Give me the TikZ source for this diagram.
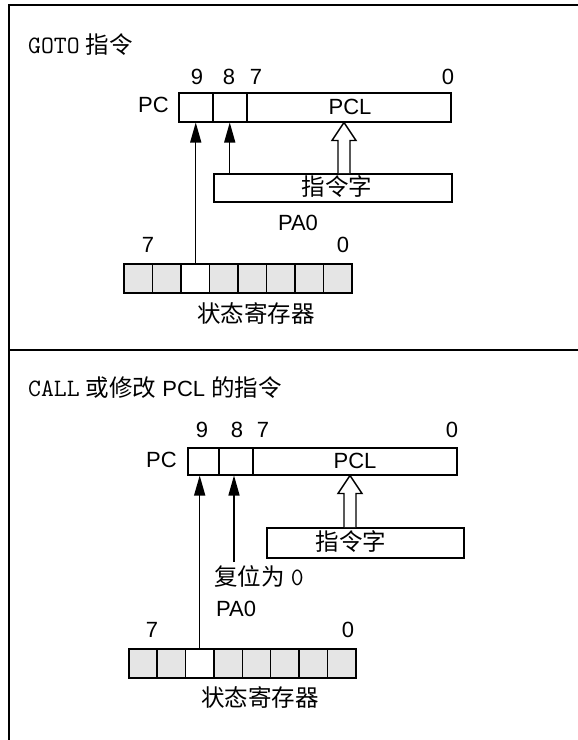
\documentclass[tikz,border=0pt]{standalone}
\usepackage{fontspec}
\setmainfont{Liberation Sans}
\newfontfamily\cjk{Noto Sans CJK SC}
\usetikzlibrary{arrows.meta,calc}
\tikzset{
  frame/.style={line width=2pt},
  reg/.style={draw, line width=1.5pt, rectangle, inner sep=0pt, anchor=north west},
  gcell/.style={reg, fill=black!10},
  wcell/.style={reg, fill=white},
  lbl/.style={inner sep=0pt, font=\fontsize{22}{25}\selectfont},
  cjklbl/.style={inner sep=0pt, font=\fontsize{23.5}{27}\selectfont\cjk},
  arr/.style={line width=1.4pt, -{Triangle[length=20pt,width=11pt]}},
  hol/.style={line width=1.4pt, fill=white, line join=miter}
}
\newcommand{\mytt}[1]{{\fontsize{25}{28}\selectfont\ttfamily #1}}
\newcommand{\mycjk}[1]{{\fontsize{23.5}{27}\selectfont\cjk #1}}
\begin{document}
\begin{tikzpicture}[x=1pt,y=-1pt]
\useasboundingbox (0,0) rectangle (578,740);
% frame
\draw[frame] (600,5) -- (9,5) -- (9,760);
\draw[frame] (9,350) -- (600,350);

% ===== top section: GOTO =====
\node[inner sep=0pt, anchor=west, font=\fontsize{22}{26}\selectfont] (t1) at (28,45)
  {\mytt{GOTO} \mycjk{指令}};
\node[lbl] (b9a) at (197,77) {9};
\node[lbl] (b8a) at (229,77) {8};
\node[lbl] (b7a) at (256,77) {7};
\node[lbl] (b0a) at (448,77) {0};
\node[lbl, anchor=east] (pca) at (169,105) {PC};
\node[reg, minimum width=34pt, minimum height=29pt] (c9a) at (178,92) {};
\node[reg, minimum width=34pt, minimum height=29pt] (c8a) at (212,92) {};
\node[reg, minimum width=204pt, minimum height=29pt] (pcla) at (246,92) {};
\node[lbl] (pcltxt1) at (350,107) {PCL};
\node[reg, minimum width=238pt, minimum height=28pt] (insa) at (213,173) {};
\node[cjklbl] (instxt1) at (337,187) {指令字};
\node[lbl] (pa0a) at (298,223) {PA0};
\node[lbl] (s7a) at (148,245) {7};
\node[lbl] (s0a) at (343,245) {0};
\foreach \i in {1,2,4,5,6,7,8}
  \node[gcell, minimum width=28.5pt, minimum height=29pt] (sa\i) at ({123+(\i-1)*28.5},263) {};
\node[wcell, minimum width=28.5pt, minimum height=29pt] (sa3) at (180,263) {};
\node[cjklbl] (stat1) at (256,313) {状态寄存器};
% arrows
\draw[arr] (sa3.north -| c9a.south) -- (c9a.south);
\draw[arr] (c8a.south |- insa.north) -- (c8a.south);
\coordinate (ax1) at (344,0);
\draw[hol] ($(ax1 |- insa.north)+(-6,0)$) -- ($(ax1 |- pcla.south)+(-6,18)$) -- ++(-6,0)
  -- (ax1 |- pcla.south) -- ++(12,18) -- ++(-6,0) -- ($(ax1 |- insa.north)+(6,0)$);

% ===== bottom section: CALL =====
\node[inner sep=0pt, anchor=west, font=\fontsize{22}{26}\selectfont] (t2) at (28,388)
  {\mytt{CALL} \mycjk{或修改} PCL \mycjk{的指令}};
\node[lbl] (b9b) at (202,430) {9};
\node[lbl] (b8b) at (237,430) {8};
\node[lbl] (b7b) at (263,430) {7};
\node[lbl] (b0b) at (452,430) {0};
\node[lbl, anchor=east] (pcb) at (177,460) {PC};
\node[reg, minimum width=31pt, minimum height=27pt] (c9b) at (187,447) {};
\node[reg, minimum width=34pt, minimum height=27pt] (c8b) at (218,447) {};
\node[reg, minimum width=204pt, minimum height=27pt] (pclb) at (252,447) {};
\node[lbl] (pcltxt2) at (355,461) {PCL};
\node[reg, minimum width=197pt, minimum height=30pt] (insb) at (266,527) {};
\node[cjklbl] (instxt2) at (351,542) {指令字};
\coordinate (r0) at (234,562);
\node[inner sep=0pt, anchor=west, font=\fontsize{22}{26}\selectfont] (rst) at (214,576) {\mycjk{复位为} \mytt{0}};
\node[lbl, anchor=west] (pa0b) at (216,609) {PA0};
\node[lbl] (s7b) at (152,630) {7};
\node[lbl] (s0b) at (348,630) {0};
\foreach \i in {1,2,4,5,6,7,8}
  \node[gcell, minimum width=28.375pt, minimum height=29pt] (sb\i) at ({128+(\i-1)*28.375},648) {};
\node[wcell, minimum width=28.375pt, minimum height=29pt] (sb3) at (184.75,648) {};
\node[cjklbl] (stat2) at (260,697) {状态寄存器};
% arrows
\draw[arr] (sb3.north) -- (sb3.north |- c9b.south);
\draw[arr] (r0) -- (r0 |- c8b.south);
\coordinate (ax2) at (350,0);
\draw[hol] ($(ax2 |- insb.north)+(-6,0)$) -- ($(ax2 |- pclb.south)+(-6,18)$) -- ++(-6,0)
  -- (ax2 |- pclb.south) -- ++(12,18) -- ++(-6,0) -- ($(ax2 |- insb.north)+(6,0)$);
\end{tikzpicture}
\end{document}
